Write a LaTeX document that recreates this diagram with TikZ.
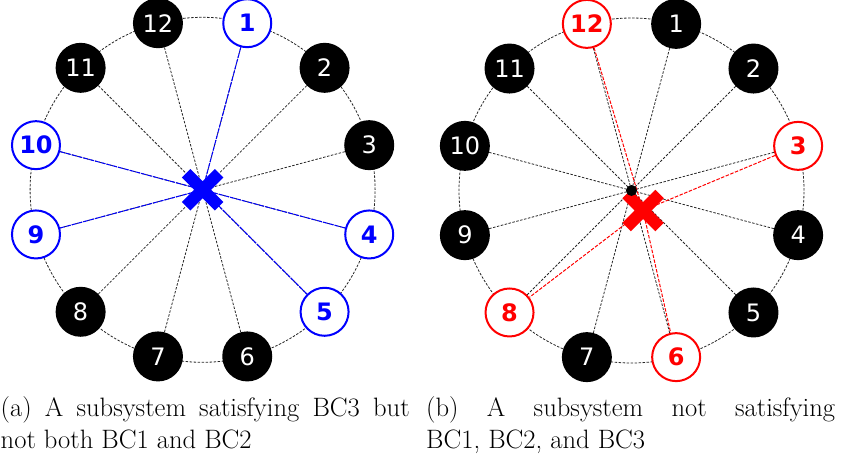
\documentclass[tikz,border=0pt]{standalone}
\usepackage{fontspec}
\newfontfamily\nodefont{DejaVu Sans}
\usetikzlibrary{shapes.misc,calc}
\pgfdeclarelayer{background}
\pgfsetlayers{background,main}
\begin{document}
\begin{tikzpicture}[x=1pt,y=-1pt,
  ring/.style={draw=black!85, line width=0.8pt, dash pattern=on 2.5pt off 1.5pt},
  spoke/.style={draw=black!85, line width=0.8pt, dash pattern=on 2.5pt off 1.5pt},
  bline/.style={draw=blue, line width=1pt, dash pattern=on 5pt off 1pt},
  rline/.style={draw=red, line width=1pt, dash pattern=on 3.5pt off 1.5pt},
  knode/.style={circle, fill=black, minimum size=50pt, inner sep=0pt, text=white,
    font=\nodefont\fontsize{24}{24}\selectfont},
  bnode/.style={circle, draw=blue, line width=2pt, fill=white, minimum size=48pt, inner sep=0pt,
    text=blue, font=\nodefont\bfseries\fontsize{24}{24}\selectfont},
  rnode/.style={circle, draw=red, line width=2pt, fill=white, minimum size=48pt, inner sep=0pt,
    text=red, font=\nodefont\bfseries\fontsize{24}{24}\selectfont},
  xmark/.style={cross out, draw=#1, line width=12pt, minimum size=21pt, inner sep=0pt},
  captext/.style={anchor=base west, inner sep=0pt, text width=409pt, align=justify,
    font=\fontsize{26.6}{31.6}\selectfont}
]
\useasboundingbox (0,0) rectangle (842,459);

% ---------- left panel ----------
\coordinate (ca) at (202.6,189.8);
\foreach \k/\s in {1/bnode,2/knode,3/knode,4/bnode,5/bnode,6/knode,7/knode,8/knode,9/bnode,10/bnode,11/knode,12/knode}
  \node[\s] (a\k) at ($(ca)+({30*\k-105}:172.5)$) {\k};
\node[xmark=blue] (xa) at (ca) {};

% ---------- right panel ----------
\coordinate (cb) at (631.5,190.5);
\foreach \k/\s in {1/knode,2/knode,3/rnode,4/knode,5/knode,6/rnode,7/knode,8/rnode,9/knode,10/knode,11/knode,12/rnode}
  \node[\s] (b\k) at ($(cb)+({30*\k-105}:172.5)$) {\k};
\node[xmark=red] (xb) at (643,210.5) {};
\node[circle, fill=black, minimum size=11pt, inner sep=0pt] (db) at (cb) {};

\begin{pgfonlayer}{background}
  \draw[ring] (ca) circle (172.5pt);
  \draw[ring] (cb) circle (172.5pt);
  \foreach \k in {1,...,12} {
    \draw[spoke] (a\k) -- (ca);
    \draw[spoke] (b\k) -- (cb);
  }
  \foreach \k in {1,4,5,9,10}
    \draw[bline] (a\k) -- (xa.center);
  \draw[rline] (b12) -- (xb.center) -- (b6);
  \draw[rline] (b3) -- (xb.center) -- (b8);
\end{pgfonlayer}

% ---------- captions ----------
\node[captext] (capa) at (0.5,416.7) {(a) A subsystem satisfying BC3 but\linebreak not both BC1 and BC2};
\node[captext] (capb) at (426,416.7) {(b) A subsystem not satisfying\linebreak BC1, BC2, and BC3};
\end{tikzpicture}
\end{document}
